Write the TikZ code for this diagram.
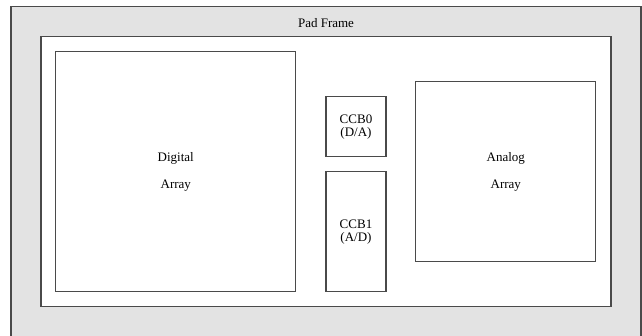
\documentclass[tikz,border=0pt]{standalone}
\usepackage{fontspec}
\setmainfont{Liberation Serif}
\usetikzlibrary{positioning}

\begin{document}
\begin{tikzpicture}[
    x=1pt, y=-1pt,
    every node/.style={font=\fontsize{13}{13}\selectfont},
    frame/.style={draw=black!71, line width=1.3pt},
    block/.style={frame, rectangle, fill=white, inner sep=0pt, align=center}
  ]

    % page area; the pad ring runs off the bottom edge
    \useasboundingbox (0,0) rectangle (642,336);
    \clip (0,0) rectangle (642,336);

    % Pad ring around the core
    \node[frame, fill=black!11, inner sep=0pt, minimum width=630pt, minimum height=338pt] (pad) at (326,175.8) {};
    \node (padlabel) at (326,23) {Pad Frame};

    % Core area
    \node[block, minimum width=570pt, minimum height=270pt] (core) at (326,171.7) {};

    % Arrays and converter blocks
    \node[block, minimum width=240pt, minimum height=240pt] (digital) at (175.8,171.8) {Digital\\[14pt]Array};
    \node[block, minimum width=60pt, minimum height=60pt] (ccb0) at (356,126.7) {CCB0\\(D/A)};
    \node[block, minimum width=60pt, minimum height=120pt] (ccb1) at (356,231.7) {CCB1\\(A/D)};
    \node[block, minimum width=180pt, minimum height=180pt] (analog) at (505.8,171.7) {Analog\\[14pt]Array};

  \end{tikzpicture}
\end{document}
